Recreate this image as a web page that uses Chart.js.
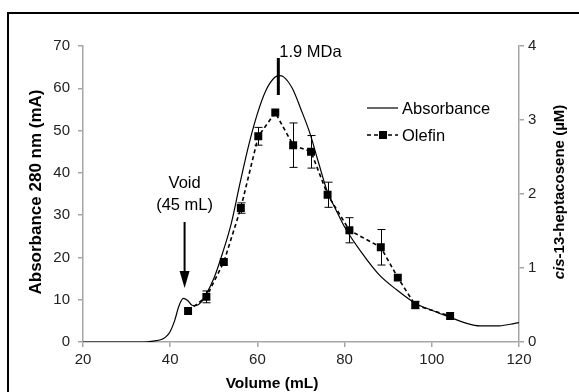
<!DOCTYPE html>
<html>
<head>
<meta charset="utf-8">
<script src="https://cdn.jsdelivr.net/npm/chart.js@4.4.0/dist/chart.umd.min.js"></script>
<style>
  html, body { margin: 0; padding: 0; background: #fff; }
  #wrap { width: 579px; height: 392px; position: relative; }
</style>
</head>
<body>
<div id="wrap"><canvas id="chart"></canvas></div>
<script>
// Absorbance trace (mA) vs elution volume (mL)
const absVolume = [20, 25, 30, 34, 36, 38, 39, 40, 41, 42, 43, 44, 45, 46, 47, 48, 50, 52, 54, 56, 58, 60, 62, 64, 65, 66, 68, 70, 72, 74, 76, 78, 80, 84, 88, 92, 96, 100, 104, 108, 111, 115, 118, 120];
const absValues = [0, 0, 0, 0, 0.2, 0.6, 1.2, 2.5, 5, 8.5, 10.3, 9.8, 8.7, 8.6, 9.3, 10.8, 15, 21, 28, 37.5, 46.5, 54, 59.6, 62.6, 63, 62.7, 60, 55, 49.5, 42.5, 35.7, 31.3, 27.2, 21, 15.8, 12.3, 9.3, 7.5, 5.9, 4.4, 3.8, 3.8, 4.2, 4.6];

// Olefin (cis-13-heptacosene, uM) fractions with error bars
const olefinVolume = [44.1, 48.3, 52.3, 56.2, 60.2, 64.1, 68.2, 72.3, 76.1, 81.1, 88.3, 92.2, 96.2, 104.2];
const olefinValues = [0.42, 0.61, 1.08, 1.81, 2.78, 3.10, 2.66, 2.57, 1.99, 1.51, 1.28, 0.87, 0.50, 0.35];
const olefinError = [0, 0.08, 0, 0.07, 0.12, 0, 0.30, 0.22, 0.17, 0.17, 0.24, 0, 0.05, 0];

const xTicks = [20, 40, 60, 80, 100, 120];

const FONT = '"Liberation Sans", Arial, sans-serif';
const AXIS_GREY = '#a6a6a6';

// error bars, annotations, frame, legend and axis titles
const extrasPlugin = {
  id: 'extras',
  afterDatasetsDraw(chart) {
    const ctx = chart.ctx;
    const x = chart.scales.x;
    const y2 = chart.scales.y2;

    // error bars
    ctx.save();
    ctx.strokeStyle = '#000';
    ctx.lineWidth = 1;
    olefinVolume.forEach((v, i) => {
      const e = olefinError[i];
      if (!e) return;
      const px = Math.round(x.getPixelForValue(v)) + 0.5;
      const top = y2.getPixelForValue(olefinValues[i] + e);
      const bot = y2.getPixelForValue(olefinValues[i] - e);
      ctx.beginPath();
      ctx.moveTo(px, top); ctx.lineTo(px, bot);
      ctx.moveTo(px - 4, top); ctx.lineTo(px + 4, top);
      ctx.moveTo(px - 4, bot); ctx.lineTo(px + 4, bot);
      ctx.stroke();
    });
    ctx.restore();
  },
  afterDraw(chart) {
    const ctx = chart.ctx;
    const x = chart.scales.x;
    const area = chart.chartArea;
    ctx.save();

    // outer frame
    ctx.strokeStyle = '#000';
    ctx.lineWidth = 2;
    ctx.beginPath();
    ctx.moveTo(8, 400);
    ctx.lineTo(8, 13);
    ctx.lineTo(600, 13);
    ctx.stroke();

    // void arrow
    const ax = x.getPixelForValue(43.3);
    ctx.fillStyle = '#000';
    ctx.lineWidth = 2;
    ctx.beginPath();
    ctx.moveTo(ax, 222);
    ctx.lineTo(ax, 276);
    ctx.stroke();
    ctx.beginPath();
    ctx.moveTo(ax - 5, 271);
    ctx.lineTo(ax + 5, 271);
    ctx.lineTo(ax, 288);
    ctx.closePath();
    ctx.fill();

    ctx.font = '16.5px ' + FONT;
    ctx.textAlign = 'center';
    ctx.textBaseline = 'middle';
    ctx.fillText('Void', ax, 183);
    ctx.fillText('(45 mL)', ax, 205);

    // 1.9 MDa marker
    const mx = x.getPixelForValue(64.8);
    ctx.lineWidth = 3;
    ctx.beginPath();
    ctx.moveTo(mx, 58);
    ctx.lineTo(mx, 95);
    ctx.stroke();
    ctx.textAlign = 'left';
    ctx.fillText('1.9 MDa', mx + 1, 52);

    // legend
    ctx.lineWidth = 1.2;
    ctx.beginPath();
    ctx.moveTo(367, 108);
    ctx.lineTo(398, 108);
    ctx.stroke();
    ctx.fillText('Absorbance', 402, 109);
    ctx.setLineDash([4, 3]);
    ctx.lineWidth = 1.5;
    ctx.beginPath();
    ctx.moveTo(367, 135);
    ctx.lineTo(398, 135);
    ctx.stroke();
    ctx.setLineDash([]);
    ctx.fillRect(379, 131, 8, 8);
    ctx.fillText('Olefin', 402, 136);

    // axis titles
    ctx.font = 'bold 15.5px ' + FONT;
    ctx.textAlign = 'center';
    ctx.fillText('Volume (mL)', 272, 384);

    const midY = (area.top + area.bottom) / 2;
    ctx.save();
    ctx.translate(36, midY - 2);
    ctx.rotate(-Math.PI / 2);
    ctx.font = 'bold 17px ' + FONT;
    ctx.fillText('Absorbance 280 nm (mA)', 0, 0);
    ctx.restore();

    ctx.save();
    ctx.translate(560, midY - 2);
    ctx.rotate(-Math.PI / 2);
    const italicPart = 'cis';
    const restPart = '-13-heptacosene (\u00b5M)';
    ctx.font = 'italic bold 15px ' + FONT;
    const w1 = ctx.measureText(italicPart).width;
    ctx.font = 'bold 15px ' + FONT;
    const w2 = ctx.measureText(restPart).width;
    const start = -(w1 + w2) / 2;
    ctx.textAlign = 'left';
    ctx.font = 'italic bold 15px ' + FONT;
    ctx.fillText(italicPart, start, 0);
    ctx.font = 'bold 15px ' + FONT;
    ctx.fillText(restPart, start + w1, 0);
    ctx.restore();

    ctx.restore();
  }
};

const ctx = document.getElementById('chart').getContext('2d');
new Chart(ctx, {
  type: 'scatter',
  data: {
    datasets: [
      {
        label: 'Absorbance',
        type: 'line',
        yAxisID: 'y',
        data: absVolume.map((v, i) => ({ x: v, y: absValues[i] })),
        borderColor: '#000',
        borderWidth: 1.2,
        pointRadius: 0,
        cubicInterpolationMode: 'monotone',
        fill: false
      },
      {
        label: 'Olefin',
        type: 'line',
        yAxisID: 'y2',
        data: olefinVolume.map((v, i) => ({ x: v, y: olefinValues[i] })),
        borderColor: '#000',
        borderWidth: 1.6,
        borderDash: [4, 3],
        pointStyle: 'rect',
        pointRadius: 4.5,
        pointBackgroundColor: '#000',
        pointBorderColor: '#000',
        tension: 0,
        fill: false
      }
    ]
  },
  options: {
    responsive: true,
    maintainAspectRatio: false,
    animation: false,
    layout: { padding: { top: 46, left: 0, right: 0, bottom: 0 } },
    plugins: {
      legend: { display: false },
      tooltip: { enabled: false }
    },
    scales: {
      x: {
        type: 'linear',
        min: 20,
        max: 120,
        afterBuildTicks: (scale) => { scale.ticks = xTicks.map(v => ({ value: v })); },
        afterFit: (scale) => { scale.height = 50; },
        border: { color: AXIS_GREY, width: 1.5 },
        grid: { drawOnChartArea: false, color: AXIS_GREY, tickLength: 5, lineWidth: 1.5 },
        ticks: { color: '#222', font: { family: FONT, size: 15 }, padding: 4 }
      },
      y: {
        position: 'left',
        min: 0,
        max: 70,
        afterFit: (scale) => { scale.width = 83; },
        border: { color: AXIS_GREY, width: 1.5 },
        grid: { drawOnChartArea: false, color: AXIS_GREY, tickLength: 5, lineWidth: 1.5 },
        ticks: { stepSize: 10, color: '#222', font: { family: FONT, size: 15 }, padding: 8 }
      },
      y2: {
        position: 'right',
        min: 0,
        max: 4,
        afterFit: (scale) => { scale.width = 60; },
        border: { color: AXIS_GREY, width: 1.5 },
        grid: { drawOnChartArea: false, color: AXIS_GREY, tickLength: 5, lineWidth: 1.5 },
        ticks: { stepSize: 1, color: '#222', font: { family: FONT, size: 15 }, padding: 4 }
      }
    }
  },
  plugins: [extrasPlugin]
});
</script>
</body>
</html>
